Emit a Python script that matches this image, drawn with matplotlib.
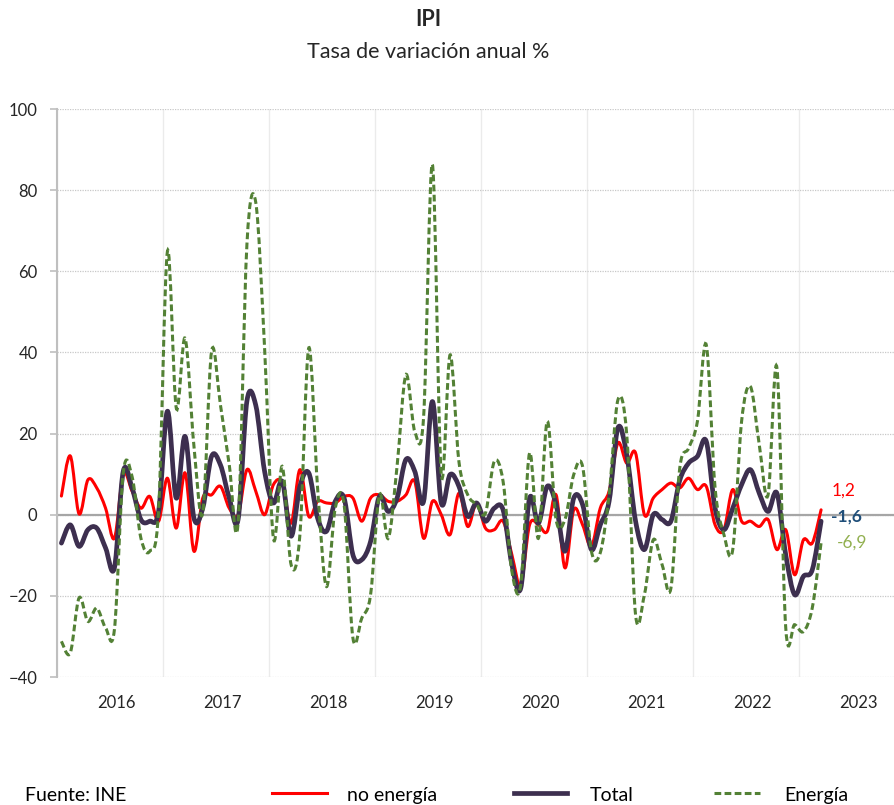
import matplotlib
matplotlib.use("Agg")
import matplotlib.pyplot as plt
from matplotlib.path import Path
from matplotlib.patches import PathPatch
from matplotlib.lines import Line2D
import numpy as np

plt.rcParams['font.family'] = ['Lato', 'DejaVu Sans']

# ---- data: monthly year-on-year rates, Jan 2016 .. Mar 2023 ----
years = ['2016', '2017', '2018', '2019', '2020', '2021', '2022', '2023']

no_energia = [4.6, 14.5, 0.2, 8.6, 6.6, 1.6, -5.8, 9.9, 5.8, 1.6, 4.5, -1.6,
              9.0, -3.3, 10.3, -9.0, 4.1, 4.9, 7.0, 1.6, 0.0, 11.1, 5.8, 0.0,
              7.4, 7.8, -2.1, 11.1, -0.4, 3.3, 2.9, 2.9, 4.5, 4.1, -1.6, 4.1,
              4.9, 3.3, 3.3, 4.9, 8.2, -5.8, 3.3, 0.0, -4.9, 5.3, -2.9, 2.9,
              -3.3, -3.7, -1.6, -9.9, -17.3, -2.5, -2.5, -4.1, 4.9, -13.1, 1.2, -2.5,
              -7.8, 1.6, 5.8, 17.7, 12.7, 15.2, 0.0, 4.1, 6.2, 7.8, 6.6, 9.0,
              6.2, 7.0, -2.5, -3.7, 6.2, -1.6, -1.6, -2.9, -1.2, -8.6, -3.7, -14.8,
              -6.2, -7.0, 1.2]

total = [-7.0, -2.5, -7.8, -3.7, -3.3, -8.2, -13.1, 10.7, 6.6, -1.2, -1.6, 0.8,
         25.5, 4.1, 19.3, -0.8, 1.6, 14.4, 12.3, 4.1, -1.2, 28.0, 27.0, 10.7,
         2.9, 8.2, -5.3, 7.0, 10.3, -0.8, -4.1, 3.3, 4.1, -9.9, -11.1, -6.6,
         4.5, 0.8, 4.1, 13.6, 10.7, 3.3, 27.9, 2.9, 9.9, 7.0, -0.4, 2.9,
         -1.6, 1.6, 1.2, -12.3, -18.1, 4.1, -2.1, 7.0, 2.5, -9.0, 4.1, 2.5,
         -8.6, -2.5, 3.3, 21.4, 14.8, -1.6, -8.6, 0.0, -1.2, -1.6, 8.5, 12.7,
         14.4, 18.1, 1.6, -3.7, 1.6, 7.4, 11.1, 5.3, 0.8, 5.3, -9.9, -19.7,
         -15.2, -13.6, -1.6]

energia = [-31.2, -34.1, -20.5, -26.3, -23.0, -27.9, -28.3, 10.3, 9.4, -5.8, -9.0, 1.0,
           64.9, 26.3, 43.5, 17.0, 0.4, 40.3, 27.1, 12.3, -2.1, 66.6, 77.0, 41.1,
           -5.8, 11.9, -12.3, -4.9, 41.1, 6.6, -17.7, 1.6, 2.5, -30.4, -25.5, -19.7,
           4.9, -5.8, 12.0, 34.5, 20.5, 24.0, 86.3, 10.0, 39.4, 13.1, 4.9, 2.5,
           0.4, 13.1, 8.2, -14.0, -17.3, 15.2, -5.8, 23.0, -1.2, -1.2, 9.9, 11.9,
           -9.0, -9.4, 4.9, 28.3, 19.7, -24.7, -19.7, -6.2, -12.3, -18.1, 11.5, 16.4,
           23.0, 41.9, 6.6, -4.9, -8.6, 23.0, 31.6, 17.3, 4.9, 36.2, -27.9, -27.1,
           -28.8, -23.0, -6.9]

last_labels = ['1,2', '-1,6', '-6,9']

# ---- style ----
C_RED = '#FF0000'
C_TOT = '#3D2F4F'
C_ENE = '#538135'
C_ENE_LBL = '#92B050'
C_TOT_LBL = '#1F4E79'


def smooth_path(x, y):
    """Excel-like smoothed line as cubic Bezier segments through the points."""
    n = len(x)
    verts = [(x[0], y[0])]
    codes = [Path.MOVETO]
    for i in range(n - 1):
        xp, yp = (x[i - 1], y[i - 1]) if i > 0 else (x[i], y[i])
        xn, yn = (x[i + 2], y[i + 2]) if i + 2 < n else (x[i + 1], y[i + 1])
        c1 = (x[i] + (x[i + 1] - xp) / 6.0, y[i] + (y[i + 1] - yp) / 6.0)
        c2 = (x[i + 1] - (xn - x[i]) / 6.0, y[i + 1] - (yn - y[i]) / 6.0)
        verts += [c1, c2, (x[i + 1], y[i + 1])]
        codes += [Path.CURVE4] * 3
    return Path(verts, codes)


W, H = 895, 805
fig = plt.figure(figsize=(W / 100, H / 100), dpi=100)
ax = fig.add_axes([57 / W, 1 - 677 / H, 848 / W, 568 / H])

n = len(total)
x = np.arange(n) + 0.5

ax.set_xlim(0, 96)
ax.set_ylim(-40, 100)

# grid
ax.set_yticks(np.arange(-40, 101, 20))
ax.yaxis.grid(True, color='#C8C8C8', linestyle=(0, (1, 1)), linewidth=0.9)
ax.set_xticks(np.arange(0, 97, 12), minor=True)
ax.xaxis.grid(True, which='minor', color='#EBEBEB', linestyle='-', linewidth=1.0)
ax.set_xticks(np.arange(len(years)) * 12 + 6.7)
ax.set_xticklabels(years)
ax.tick_params(axis='x', which='both', length=0, pad=13, labelsize=12, labelcolor='#262626')
ax.tick_params(axis='y', length=5, width=1.2, color='#BFBFBF', labelsize=12,
               labelcolor='#262626', pad=9)
ax.set_axisbelow(True)
for s in ['top', 'right', 'bottom']:
    ax.spines[s].set_visible(False)
ax.spines['left'].set_color('#BFBFBF')
ax.spines['left'].set_linewidth(1.5)

ax.axhline(0, color='#A6A6A6', linewidth=1.6, zorder=1.5)

ax.add_patch(PathPatch(smooth_path(x, no_energia), fill=False, edgecolor=C_RED,
                       linewidth=2.2, zorder=3, capstyle='round', joinstyle='round'))
ax.add_patch(PathPatch(smooth_path(x, total), fill=False, edgecolor=C_TOT,
                       linewidth=3.4, zorder=3.1, capstyle='round', joinstyle='round'))
ax.add_patch(PathPatch(smooth_path(x, energia), fill=False, edgecolor=C_ENE,
                       linewidth=2.2, linestyle=(0, (2.2, 1.1)), zorder=3.2))

# end labels
ax.annotate(last_labels[0], (x[-1], no_energia[-1]), xytext=(11, 19),
            textcoords='offset pixels', color=C_RED, fontsize=12.5, va='center', ha='left')
ax.annotate(last_labels[1], (x[-1], total[-1]), xytext=(10, 5),
            textcoords='offset pixels', color=C_TOT_LBL, fontsize=12.5, fontweight='bold',
            va='center', ha='left')
ax.annotate(last_labels[2], (x[-1], energia[-1]), xytext=(16, 0),
            textcoords='offset pixels', color=C_ENE_LBL, fontsize=12.5, va='center', ha='left')

# titles
fig.text(428 / W, 1 - 20 / H, 'IPI', ha='center', va='center', fontsize=15.5,
         fontweight='bold', color='#262626')
fig.text(428 / W, 1 - 52 / H, 'Tasa de variación anual %', ha='center', va='center',
         fontsize=15.5, color='#262626')

# footer + legend
fy = 1 - 795 / H
fig.text(25 / W, fy, 'Fuente: INE', ha='left', va='center', fontsize=14, color='#000000')
legend_items = [
    (272, 327, 347, 'no energía', dict(color=C_RED, linewidth=2.2)),
    (514, 567, 590, 'Total', dict(color=C_TOT, linewidth=3.4)),
    (714, 760, 784, 'Energía', dict(color=C_ENE, linewidth=2.2, linestyle=(0, (2.2, 1.1)))),
]
for x0, x1, xt, lab, kw in legend_items:
    fig.add_artist(Line2D([x0 / W, x1 / W], [1 - 793 / H, 1 - 793 / H],
                          transform=fig.transFigure, **kw))
    fig.text(xt / W, fy, lab, ha='left', va='center', fontsize=14, color='#000000')

fig.savefig('out.png', dpi=100)
